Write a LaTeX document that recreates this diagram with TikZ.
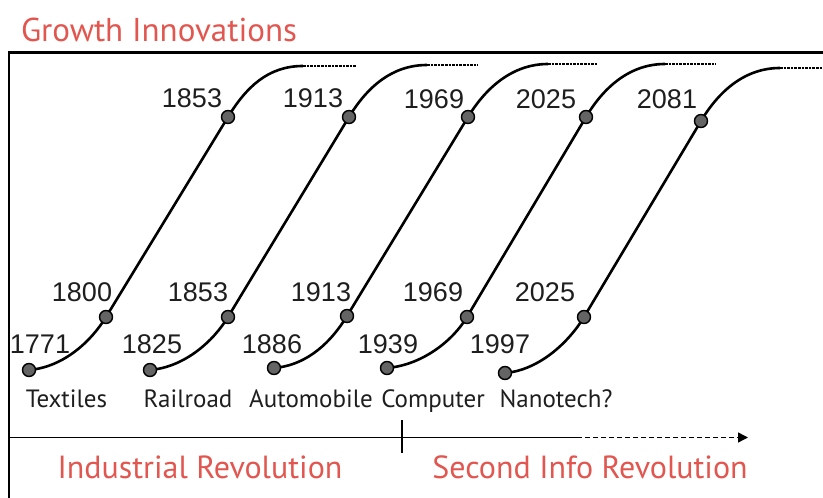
\documentclass[tikz,border=0pt]{standalone}
\usepackage{fontspec}
\setmainfont{PT Sans}
\newfontfamily\numfont{Liberation Sans}
\usetikzlibrary{calc,arrows.meta}
\pgfdeclarelayer{bg}
\pgfsetlayers{bg,main}
\definecolor{redtxt}{RGB}{226,86,80}
\definecolor{dotgray}{RGB}{100,100,100}
\definecolor{ink}{RGB}{30,30,30}
\begin{document}
\begin{tikzpicture}[x=1pt,y=-1pt,
  dot/.style={circle, draw=black, line width=1.4pt, fill=dotgray, minimum size=13pt, inner sep=0pt},
  curve/.style={line width=2.6pt, black},
  tail/.style={line width=2.8pt, black, dash pattern=on 2.6pt off 1pt},
  yr/.style={font=\numfont\fontsize{27}{30}\selectfont, text=ink, inner sep=0pt},
  cat/.style={font=\fontsize{25}{28}\selectfont, text=ink, inner sep=0pt, anchor=base},
  era/.style={font=\fontsize{32}{35}\selectfont, text=redtxt, inner sep=0pt, anchor=base},
  frame/.style={line width=2.4pt, black},
  axis/.style={line width=1.5pt, black}]
\useasboundingbox (0,0) rectangle (823,498);

% frame
\coordinate (fr) at (823,52.5);
\coordinate (fc) at (9,52.5);
\coordinate (fb) at (9,498);
\draw[frame] (fr) -- (fc) -- (fb);

% title
\node[era, font=\fontsize{33}{36}\selectfont] (title) at (159,41) {Growth Innovations};

% S-curves
\foreach \i/\sx/\sy/\ax/\ay/\bx/\by/\tx/\ty/\ex in {
 1/29/370/106/317/228/117/303/66/357,
 2/150/370/228/317/349/117/427/65/478,
 3/274/368/347/316/468/117/548/64/598,
 4/387/368/467/317/586/117/665/64/716,
 5/505/373/584/317/701/121/780/68/823}
{
 \node[dot] (s\i) at (\sx,\sy) {};
 \node[dot] (a\i) at (\ax,\ay) {};
 \node[dot] (b\i) at (\bx,\by) {};
 \coordinate (t\i) at (\tx,\ty);
 \coordinate (e\i) at (\ex,\ty);
 \begin{pgfonlayer}{bg}
 \draw[curve] (s\i.center) .. controls ($(s\i.center)+(35,-3)$) and ($(a\i.center)!-28pt!(b\i.center)$) .. (a\i.center)
   -- (b\i.center) .. controls ($(b\i.center)!-35pt!(a\i.center)$) and ($(t\i)+(-35,0)$) .. (t\i);
 \draw[tail] (t\i) -- (e\i);
 \end{pgfonlayer}
}

% year labels
\node[yr] (l1771) at (40,344) {1771};
\node[yr] (l1825) at (152,344) {1825};
\node[yr] (l1886) at (272,344) {1886};
\node[yr] (l1939) at (388,344) {1939};
\node[yr] (l1997) at (500,344) {1997};

\node[yr] (m1800) at (82,292) {1800};
\node[yr] (m1853) at (198,292) {1853};
\node[yr] (m1913) at (321,292) {1913};
\node[yr] (m1969) at (433,292) {1969};
\node[yr] (m2025) at (545,292) {2025};

\node[yr] (h1853) at (192,98) {1853};
\node[yr] (h1913) at (313,98) {1913};
\node[yr] (h1969) at (434,99) {1969};
\node[yr] (h2025) at (546,99) {2025};
\node[yr] (h2081) at (667,99) {2081};

% categories
\node[cat] (textiles) at (66.5,407) {Textiles};
\node[cat] (railroad) at (188,407) {Railroad};
\node[cat] (auto) at (311,407) {Automobile};
\node[cat] (computer) at (433,407) {Computer};
\node[cat] (nano) at (556,407) {Nanotech?};

% time axis
\coordinate (ax0) at (9,437.5);
\coordinate (axm) at (577,437.5);
\coordinate (ax1) at (748,437.5);
\coordinate (tk0) at (402,420);
\coordinate (tk1) at (402,453);
\draw[axis] (ax0) -- (axm);
\draw[axis, dash pattern=on 5pt off 3pt, -{Triangle[length=10pt,width=10pt]}] (axm) -- (ax1);
\draw[axis] (tk0) -- (tk1);

% eras
\node[era] (ind) at (200,478) {Industrial Revolution};
\node[era] (sec) at (590,478) {Second Info Revolution};
\end{tikzpicture}
\end{document}
